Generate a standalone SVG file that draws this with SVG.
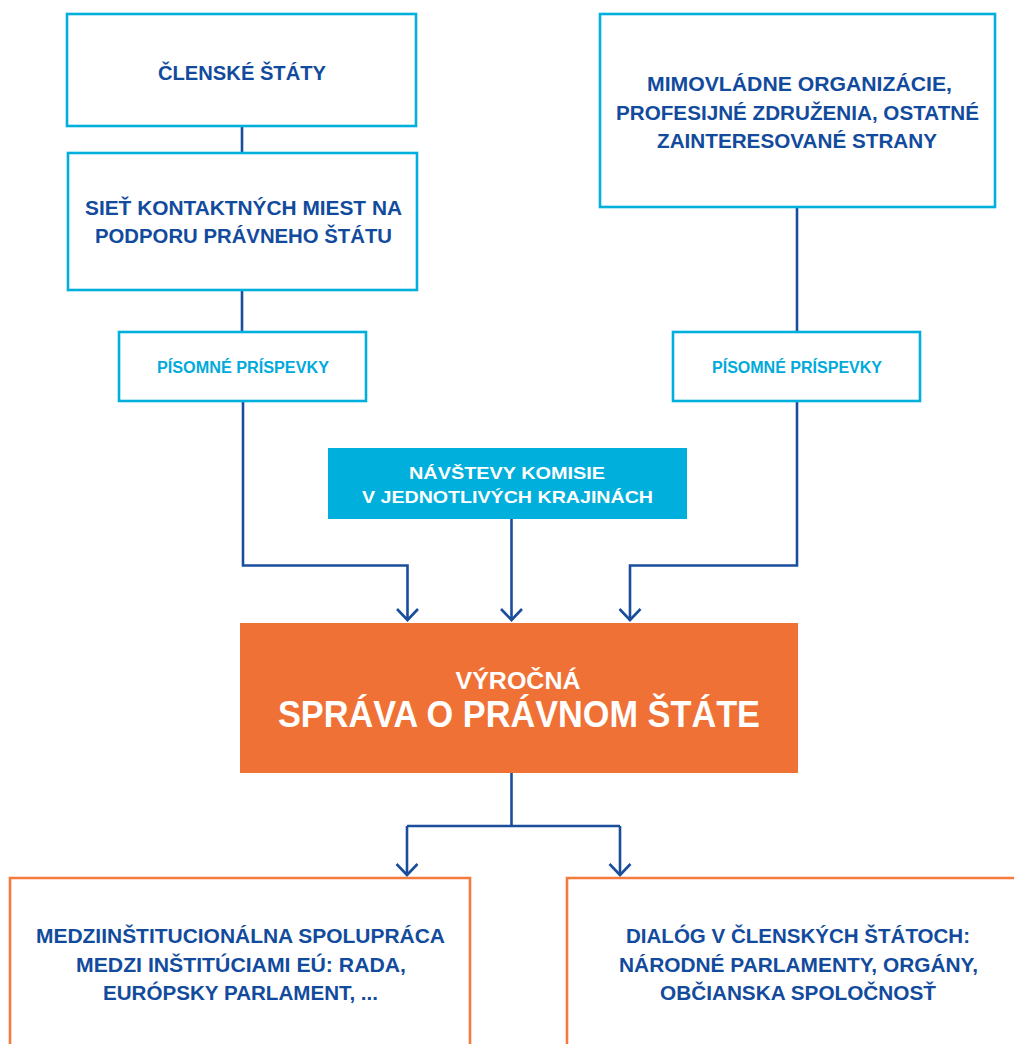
<svg xmlns="http://www.w3.org/2000/svg" width="1014" height="1044" viewBox="0 0 1014 1044">
<style>
.bx{fill:#fff;stroke:#00afdc;stroke-width:2.6}
.ob{fill:#fff;stroke:#f47a3e;stroke-width:2.6}
.t{font-family:"Liberation Sans",Arial,sans-serif;font-weight:bold;text-anchor:middle}
.db{fill:#124b9d;font-size:21px}
.cy{fill:#00aadb;font-size:16px}
.wh{fill:#fff}
.ln{fill:none;stroke:#1a4d9c;stroke-width:2.6}
</style>
<defs>
<marker id="ah" markerUnits="userSpaceOnUse" markerWidth="30" markerHeight="30" viewBox="-15 -15 30 30" refX="0" refY="0" orient="auto">
<path d="M-11,-10.5 L0,0 L-11,10.5" fill="none" stroke="#1a4d9c" stroke-width="2.6"/>
</marker>
</defs>
<rect width="1014" height="1044" fill="#fff"/>
<g id="connectors">
<line class="ln" x1="242" y1="126" x2="242" y2="153"/>
<line class="ln" x1="242" y1="290" x2="242" y2="332"/>
<line class="ln" x1="797" y1="207" x2="797" y2="332"/>
<path class="ln" d="M243,401 V565.5 H407.5 V620" marker-end="url(#ah)"/>
<path class="ln" d="M797,401 V565.5 H630 V620" marker-end="url(#ah)"/>
<path class="ln" d="M511.5,519 V620" marker-end="url(#ah)"/>
<path class="ln" d="M511.5,773 V826"/>
<path class="ln" d="M407,826 H620"/>
<path class="ln" d="M407,826 V875" marker-end="url(#ah)"/>
<path class="ln" d="M620,826 V875" marker-end="url(#ah)"/>
</g>
<g id="clenske-staty">
<rect class="bx" x="67" y="14" width="349" height="112"/>
<text class="t db" x="242" y="80" textLength="168" lengthAdjust="spacingAndGlyphs">ČLENSKÉ ŠTÁTY</text>
</g>
<g id="siet">
<rect class="bx" x="68" y="153" width="349" height="137"/>
<text class="t db" x="243.5" y="215" textLength="317" lengthAdjust="spacingAndGlyphs">SIEŤ KONTAKTNÝCH MIEST NA</text>
<text class="t db" x="243.5" y="243" textLength="297" lengthAdjust="spacingAndGlyphs">PODPORU PRÁVNEHO ŠTÁTU</text>
</g>
<g id="mimovladne">
<rect class="bx" x="600" y="14" width="395" height="193"/>
<text class="t db" x="799.5" y="91" textLength="305" lengthAdjust="spacingAndGlyphs">MIMOVLÁDNE ORGANIZÁCIE,</text>
<text class="t db" x="797.5" y="120" textLength="363" lengthAdjust="spacingAndGlyphs">PROFESIJNÉ ZDRUŽENIA, OSTATNÉ</text>
<text class="t db" x="797" y="148" textLength="280" lengthAdjust="spacingAndGlyphs">ZAINTERESOVANÉ STRANY</text>
</g>
<g id="pisomne-left">
<rect class="bx" x="119" y="332" width="247" height="69"/>
<text class="t cy" x="243" y="373" textLength="172" lengthAdjust="spacingAndGlyphs">PÍSOMNÉ PRÍSPEVKY</text>
</g>
<g id="pisomne-right">
<rect class="bx" x="673" y="332" width="247" height="69"/>
<text class="t cy" x="797" y="373" textLength="170" lengthAdjust="spacingAndGlyphs">PÍSOMNÉ PRÍSPEVKY</text>
</g>
<g id="navstevy">
<rect x="328" y="448" width="359" height="71" fill="#00afdb"/>
<text class="t wh" x="507" y="479" font-size="17" textLength="196" lengthAdjust="spacingAndGlyphs">NÁVŠTEVY KOMISIE</text>
<text class="t wh" x="507.5" y="503" font-size="17" textLength="291" lengthAdjust="spacingAndGlyphs">V JEDNOTLIVÝCH KRAJINÁCH</text>
</g>
<g id="vyrocna-sprava">
<rect x="240" y="623" width="558" height="150" fill="#f07135"/>
<text class="t wh" x="518" y="689" font-size="24" textLength="125" lengthAdjust="spacingAndGlyphs">VÝROČNÁ</text>
<text class="t wh" x="519" y="727" font-size="37" textLength="482" lengthAdjust="spacingAndGlyphs">SPRÁVA O PRÁVNOM ŠTÁTE</text>
</g>
<g id="medziinstitucionalna">
<path class="ob" d="M10,1046 V878 H470 V1046"/>
<text class="t db" x="240.5" y="943" textLength="409" lengthAdjust="spacingAndGlyphs">MEDZIINŠTITUCIONÁLNA SPOLUPRÁCA</text>
<text class="t db" x="241" y="972" textLength="330" lengthAdjust="spacingAndGlyphs">MEDZI INŠTITÚCIAMI EÚ: RADA,</text>
<text class="t db" x="240.5" y="1000" textLength="275" lengthAdjust="spacingAndGlyphs">EURÓPSKY PARLAMENT, ...</text>
</g>
<g id="dialog">
<path class="ob" d="M567,1046 V878 H1016"/>
<text class="t db" x="798" y="943" textLength="344" lengthAdjust="spacingAndGlyphs">DIALÓG V ČLENSKÝCH ŠTÁTOCH:</text>
<text class="t db" x="798.5" y="972" textLength="359" lengthAdjust="spacingAndGlyphs">NÁRODNÉ PARLAMENTY, ORGÁNY,</text>
<text class="t db" x="798" y="1000" textLength="276" lengthAdjust="spacingAndGlyphs">OBČIANSKA SPOLOČNOSŤ</text>
</g>
</svg>
